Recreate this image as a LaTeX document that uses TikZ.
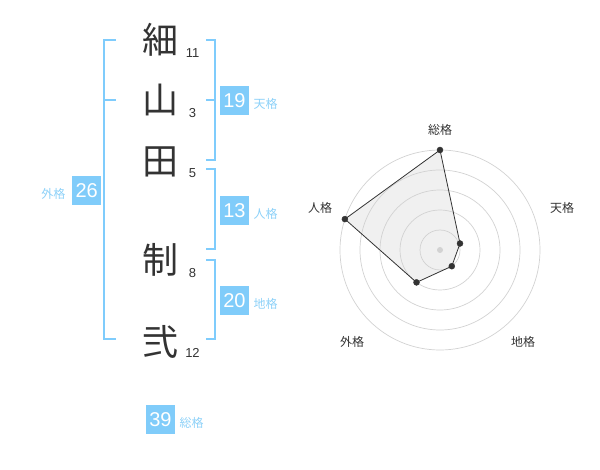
\documentclass[tikz,border=0pt]{standalone}
\usepackage{fontspec}
\setmainfont{Liberation Sans}
\newfontfamily\jp{Noto Sans CJK JP}
\usepackage{tkz-euclide}
\usepackage{amsmath}

\definecolor{ink}{HTML}{333333}
\definecolor{kakuline}{HTML}{7FCCFC}
\definecolor{kakubox}{HTML}{80CCFA}
\definecolor{kakutext}{HTML}{8DD1F8}
\definecolor{ring}{HTML}{D2D2D2}
\definecolor{web}{HTML}{F0F0F0}

\begin{document}
\begin{tikzpicture}[x=1pt, y=-1pt,
    kanji/.style={font=\jp\fontsize{36}{36}\selectfont, text=ink, inner sep=0pt},
    strokes/.style={font=\fontsize{13}{13}\selectfont, text=ink, inner sep=0pt},
    score/.style={fill=kakubox, text=white, minimum size=29pt, inner sep=0pt, font=\fontsize{20}{20}\selectfont},
    tag/.style={font=\jp\fontsize{12}{12}\selectfont, text=kakutext, inner sep=0pt},
    brace/.style={draw=kakuline, line width=2pt},
    axis/.style={font=\jp\fontsize{12}{12}\selectfont, text=ink, inner sep=0pt}]
    \useasboundingbox (0,0) rectangle (600,470);
    % name and stroke counts
    \node[kanji] (K1) at (160,40) {細};
    \node[kanji] (K2) at (160,100) {山};
    \node[kanji] (K3) at (160,162) {田};
    \node[kanji] (K4) at (160,260) {制};
    \node[kanji] (K5) at (160,342) {弐};
    \node[strokes] (N1) at (192.5,53.3) {11};
    \node[strokes] (N2) at (192.5,113.3) {3};
    \node[strokes] (N3) at (192.5,172.7) {5};
    \node[strokes] (N4) at (192.5,272.7) {8};
    \node[strokes] (N5) at (192.5,352.7) {12};
    % brackets
    \draw[brace] (115.7,40) -- (104,40) -- (104,339.5) -- (115.7,339.5);
    \draw[brace] (104,99.7) -- (115.7,99.7);
    \draw[brace] (206,40) -- (214.5,40) -- (214.5,160) -- (206,160);
    \draw[brace] (206,100) -- (214.5,100);
    \draw[brace] (206,169) -- (214.5,169) -- (214.5,249.5) -- (206,249.5);
    \draw[brace] (206,260) -- (214.5,260) -- (214.5,339.5) -- (206,339.5);
    % scores
    \node[score] (TEN) at (234.5,100.5) {19};
    \node[score] (JIN) at (234.5,210.5) {13};
    \node[score] (CHI) at (234.5,300.5) {20};
    \node[score] (GAI) at (86.7,190.3) {26};
    \node[score] (SOU) at (160.5,419.3) {39};
    \node[tag, anchor=west] at (253.5,104) {天格};
    \node[tag, anchor=west] at (253.5,214) {人格};
    \node[tag, anchor=west] at (253.5,304) {地格};
    \node[tag, anchor=east] at (65.5,194) {外格};
    \node[tag, anchor=west] at (179.5,422.5) {総格};
    % radar
    \tkzDefPoints{440/250/O,440/150/S,460/243.5/T,451.8/266.2/C,416.5/282.4/G,344.9/219.1/J}
    \tkzFillPolygon[color=web](S,T,C,G,J)
    \foreach \r in {20,40,...,100}
        \draw[ring, line width=0.7pt] (O) circle[radius=\r];
    \fill[ring] (O) circle[radius=3];
    \tkzDrawPolygon[color=ink, line width=0.8pt](S,T,C,G,J)
    \tkzDrawPoints[color=ink, fill=ink, size=6](S,T,C,G,J)
    \node[axis] (aS) at (440,130) {総格};
    \node[axis] (aT) at (562,208) {天格};
    \node[axis] (aC) at (523,342) {地格};
    \node[axis] (aG) at (352,342) {外格};
    \node[axis] (aJ) at (320,208) {人格};
\end{tikzpicture}
\end{document}
